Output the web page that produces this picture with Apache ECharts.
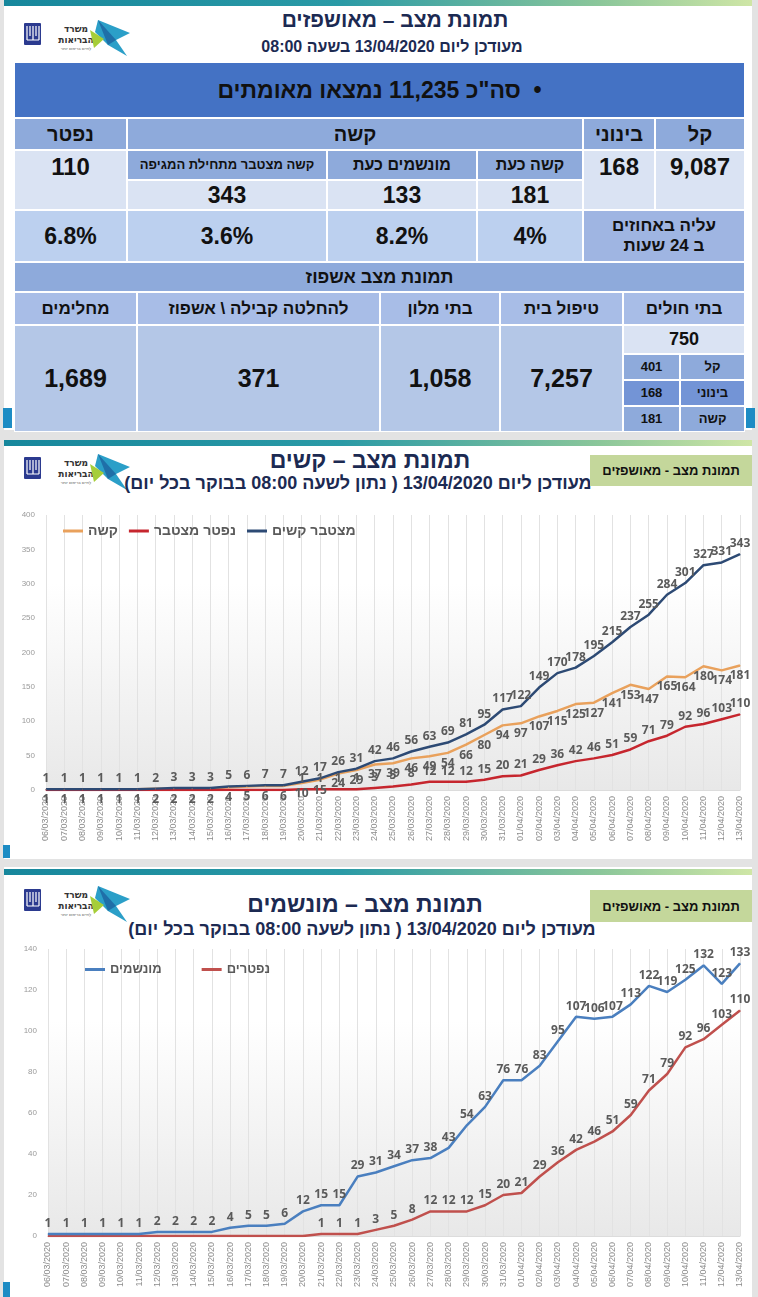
<!DOCTYPE html>
<html><head><meta charset="utf-8">
<script src="https://cdn.jsdelivr.net/npm/echarts@6/dist/echarts.min.js"></script>
<style>
html,body{margin:0;padding:0;}
body{width:758px;height:1297px;background:#e3e3e3;position:relative;overflow:hidden;font-family:"Liberation Sans Narrow","Liberation Sans","DejaVu Sans",sans-serif;}
.panel{position:absolute;left:4px;width:748px;background:#fff;}
.bar{position:absolute;height:6px;background:linear-gradient(90deg,#17879c 0%,#2a9aa6 45%,#8cc79a 80%,#cfe6a6 100%);}
.t{position:absolute;direction:rtl;text-align:center;font-weight:bold;color:#1c2a52;white-space:nowrap;}
.cell{position:absolute;box-sizing:border-box;border:1px solid #fff;display:flex;align-items:center;justify-content:center;direction:rtl;font-weight:bold;color:#111;text-align:center;line-height:1.15;}
.green{position:absolute;background:#c4d79b;font-weight:bold;font-size:13px;display:flex;align-items:center;justify-content:center;direction:rtl;color:#111;}
.sq{position:absolute;background:#1d8cc4;}
.logo{position:absolute;width:110px;height:40px;}
.chart{position:absolute;left:0;width:758px;}
</style></head>
<body>
<div class="panel" style="top:0;height:430px"></div>
<div class="panel" style="top:440px;height:419px"></div>
<div class="panel" style="top:867px;height:430px"></div>
<div class="bar" style="left:4px;width:748px;top:0"></div>
<div class="bar" style="left:4px;width:748px;top:440px"></div>
<div class="bar" style="left:4px;width:748px;top:869px"></div>
<div class="sq" style="left:3px;top:408px;width:9px;height:20px"></div>
<div class="sq" style="left:746px;top:408px;width:9px;height:20px"></div>
<div class="sq" style="left:3px;top:845px;width:7px;height:13px"></div>
<div class="sq" style="left:3px;top:1282px;width:7px;height:15px"></div>
<div id="layer"></div>
<div id="c1" class="chart" style="top:500px;height:360px"></div>
<div id="c2" class="chart" style="top:940px;height:357px"></div>
<script>
// ---------- table values ----------
const totalConfirmed = '11,235';
const severityHeaders = ['קל', 'בינוני', 'קשה', 'נפטר'];
const severityValues = ['9,087', '168', '110'];
const severeSubHeaders = ['קשה כעת', 'מונשמים כעת', 'קשה מצטבר מתחילת המגיפה'];
const severeSubValues = ['181', '133', '343'];
const dailyRise = ['4%', '8.2%', '3.6%', '6.8%'];
const hospHeaders = ['בתי חולים', 'טיפול בית', 'בתי מלון', 'להחלטה קבילה \\ אשפוז', 'מחלימים'];
const hospValues = ['750', '7,257', '1,058', '371', '1,689'];
const hospitalSplitLabels = ['קל', 'בינוני', 'קשה'];
const hospitalSplitValues = ['401', '168', '181'];

// ---------- chart values ----------
const dates = ['06/03/2020','07/03/2020','08/03/2020','09/03/2020','10/03/2020','11/03/2020','12/03/2020','13/03/2020','14/03/2020','15/03/2020','16/03/2020','17/03/2020','18/03/2020','19/03/2020','20/03/2020','21/03/2020','22/03/2020','23/03/2020','24/03/2020','25/03/2020','26/03/2020','27/03/2020','28/03/2020','29/03/2020','30/03/2020','31/03/2020','01/04/2020','02/04/2020','03/04/2020','04/04/2020','05/04/2020','06/04/2020','07/04/2020','08/04/2020','09/04/2020','10/04/2020','11/04/2020','12/04/2020','13/04/2020'];
const cumulativeSevere = [1,1,1,1,1,1,2,3,3,3,5,6,7,7,12,17,26,31,42,46,56,63,69,81,95,117,122,149,170,178,195,215,237,255,284,301,327,331,343];
const severeNow = [1,1,1,1,1,1,2,2,2,2,4,5,6,6,10,15,24,29,37,39,46,49,54,66,80,94,97,107,115,125,127,141,153,147,165,164,180,174,181];
const cumulativeDeaths1 = [0,0,0,0,0,0,0,0,0,0,0,0,0,0,1,1,1,1,3,5,8,12,12,12,15,20,21,29,36,42,46,51,59,71,79,92,96,103,110];
const ventilated = [1,1,1,1,1,1,2,2,2,2,4,5,5,6,12,15,15,29,31,34,37,38,43,54,63,76,76,83,95,107,106,107,113,122,119,125,132,123,133];
const deaths2 = [0,0,0,0,0,0,0,0,0,0,0,0,0,0,0,1,1,1,3,5,8,12,12,12,15,20,21,29,36,42,46,51,59,71,79,92,96,103,110];
const yTicks1 = {min: 0, max: 400, interval: 50};
const yTicks2 = {min: 0, max: 140, interval: 20};

// ---------- build table / titles ----------
const layer = document.getElementById('layer');
function cell(x1, y1, x2, y2, bg, html, fs, extra) {
  const d = document.createElement('div');
  d.className = 'cell';
  d.style.cssText = `left:${x1}px;top:${y1}px;width:${x2-x1}px;height:${y2-y1}px;background:${bg};font-size:${fs}px;` + (extra || '');
  d.innerHTML = html;
  layer.appendChild(d);
}
function title(cx, cy, text, fs) {
  const d = document.createElement('div');
  d.className = 't';
  d.style.cssText = `left:${cx-300}px;width:600px;top:${cy - fs*0.65}px;font-size:${fs}px;line-height:${fs*1.3}px;`;
  d.textContent = text;
  layer.appendChild(d);
}
function green(x1, y1, x2, y2, text) {
  const d = document.createElement('div');
  d.className = 'green';
  d.style.cssText = `left:${x1}px;top:${y1}px;width:${x2-x1}px;height:${y2-y1}px;`;
  d.textContent = text;
  layer.appendChild(d);
}
const logoSvg = `<svg viewBox="0 0 110 40" width="110" height="40">
<rect x="0" y="5" width="17" height="22" rx="1" fill="#2b3a8f"/>
<path d="M3 8v14M6 8v10M9 8v14M12 8v10M15 8v14M3 22h12" stroke="#fff" stroke-width="1.2" fill="none"/>
<text x="52" y="14" font-size="10" font-weight="bold" fill="#333" text-anchor="middle" font-family="DejaVu Sans Condensed, DejaVu Sans">משרד</text>
<text x="52" y="25" font-size="10" font-weight="bold" fill="#333" text-anchor="middle" font-family="DejaVu Sans Condensed, DejaVu Sans">הבריאות</text>
<text x="52" y="32" font-size="4" fill="#555" text-anchor="middle" font-family="Liberation Sans">לחיים בריאים יותר</text>
<polygon points="74,2 106,15 92,22 103,38 84,27 71,14" fill="#2b9fc8"/>
<polygon points="74,2 92,22 84,27" fill="#1f6fa8"/>
<polygon points="66,12 80,21 70,30" fill="#a6ce39"/>
</svg>`;
[[24,18],[24,452],[24,884]].forEach(([x,y]) => {
  const d = document.createElement('div');
  d.className = 'logo';
  d.style.left = x + 'px'; d.style.top = y + 'px';
  d.innerHTML = logoSvg;
  layer.appendChild(d);
});

title(395, 20, 'תמונת מצב – מאושפזים', 21);
title(392, 47, 'מעודכן ליום 13/04/2020 בשעה 08:00', 16);
title(370, 461, 'תמונת מצב – קשים', 23);
title(358, 484, 'מעודכן ליום 13/04/2020 ( נתון לשעה 08:00 בבוקר בכל יום)', 18);
title(365, 905, 'תמונת מצב – מונשמים', 23);
title(362, 930, 'מעודכן ליום 13/04/2020 ( נתון לשעה 08:00 בבוקר בכל יום)', 18);
green(590, 455, 752, 486, 'תמונת מצב - מאושפזים');
green(590, 890, 752, 922, 'תמונת מצב - מאושפזים');

const H = '#8eaadb', L = '#dae3f3', M = '#bcd0ef';
cell(14, 62, 745, 118, '#4472c4', '•&nbsp; סה"כ ' + totalConfirmed + ' נמצאו מאומתים', 23);
const colB = [[655,745],[583,655],[127,583],[14,127]];
severityHeaders.forEach((h, i) => cell(colB[i][0], 118, colB[i][1], 150, H, h, 20));
const colV = [[655,745],[583,655],[14,127]];
severityValues.forEach((v, i) => cell(colV[i][0], 150, colV[i][1], 210, L, v, 24, 'align-items:flex-start;padding-top:2px;'));
const colS = [[477,583],[327,477],[127,327]];
severeSubHeaders.forEach((h, i) => cell(colS[i][0], 150, colS[i][1], 180, H, h, i === 2 ? 13 : 16));
severeSubValues.forEach((v, i) => cell(colS[i][0], 180, colS[i][1], 210, L, v, 23));
cell(583, 210, 745, 262, '#9fb5e2', 'עליה באחוזים<br>ב 24 שעות', 17);
const colE = [[477,583],[327,477],[127,327],[14,127]];
dailyRise.forEach((v, i) => cell(colE[i][0], 210, colE[i][1], 262, M, v, 23));
cell(14, 262, 745, 292, H, 'תמונת מצב אשפוז', 18);
const colG = [[623,745],[500,623],[380,500],[137,380],[14,137]];
hospHeaders.forEach((h, i) => cell(colG[i][0], 292, colG[i][1], 325, '#a8bde7', h, 17));
cell(623, 325, 745, 354, L, hospValues[0], 18);
hospValues.slice(1).forEach((v, i) => cell(colG[i+1][0], 325, colG[i+1][1], 432, '#b4c7e7', v, 25));
const splitBg = [H, '#7394d6', H];
hospitalSplitLabels.forEach((l, i) => {
  const y1 = 354 + i * 26;
  cell(680, y1, 745, y1 + 26, splitBg[i], l, 13);
  cell(623, y1, 680, y1 + 26, splitBg[i], hospitalSplitValues[i], 13);
});

// ---------- charts ----------
const labelStyle = {show: true, fontSize: 12, fontWeight: 'bold', color: '#5a5a5a', fontFamily: 'Open Sans, Liberation Sans', distance: 4};
function baseOption(grid, yT, legendCfg, legendFs) {
  return {
    animation: false,
    legend: Object.assign({icon: 'rect', itemWidth: 20, itemHeight: 3,
      textStyle: {fontSize: legendFs, fontWeight: 'bold', color: '#5a5a5a', fontFamily: 'Liberation Sans'}}, legendCfg),
    grid: Object.assign({show: true, borderWidth: 0, outerBoundsMode: 'none', containLabel: false,
      backgroundColor: {type: 'linear', x: 0, y: 0, x2: 0, y2: 1,
        colorStops: [{offset: 0, color: '#ffffff'}, {offset: 0.25, color: '#ffffff'}, {offset: 1, color: '#e8e8e8'}]}}, grid),
    xAxis: {type: 'category', data: dates, boundaryGap: false,
      axisLine: {show: true, lineStyle: {color: '#dcdcdc'}}, axisTick: {show: false},
      axisLabel: {rotate: 90, interval: 0, fontSize: 9, color: '#8c8c8c', margin: 6, fontFamily: 'Liberation Sans'},
      splitLine: {show: true, interval: 0, lineStyle: {color: '#e2e2e2', width: 1}}},
    yAxis: {type: 'value', min: yT.min, max: yT.max, interval: yT.interval,
      axisLine: {show: false}, axisTick: {show: false}, splitLine: {show: false},
      axisLabel: {fontSize: 8, color: '#9a9a9a', margin: 11, fontFamily: 'Liberation Sans'}},
    series: []
  };
}
function lineSeries(name, data, color, pos) {
  return {name, type: 'line', data, symbol: 'circle', symbolSize: 1, showSymbol: true,
    lineStyle: {color, width: 2.5}, itemStyle: {color},
    label: Object.assign({}, labelStyle, {position: pos, formatter: p => p.value === 0 ? '' : String(p.value)})};
}
const c1 = echarts.init(document.getElementById('c1'), null, {renderer: 'canvas'});
const o1 = baseOption({left: 46, right: 18, top: 15, bottom: 70}, yTicks1,
  {left: 58, top: 19, itemGap: 11, data: ['קשה', 'נפטר מצטבר', 'מצטבר קשים']}, 14);
o1.series = [
  lineSeries('קשה', severeNow, '#e9a15c', 'bottom'),
  lineSeries('נפטר מצטבר', cumulativeDeaths1, '#c6262e', 'top'),
  lineSeries('מצטבר קשים', cumulativeSevere, '#2d4a74', 'top')
];
c1.setOption(o1);

const c2 = echarts.init(document.getElementById('c2'), null, {renderer: 'canvas'});
const o2 = baseOption({left: 48, right: 18, top: 9, bottom: 61}, yTicks2,
  {left: 80, top: 18, itemGap: 40, data: ['מונשמים', 'נפטרים']}, 13);
o2.series = [
  lineSeries('נפטרים', deaths2, '#c0504d', 'top'),
  lineSeries('מונשמים', ventilated, '#4a7fbf', 'top')
];
c2.setOption(o2);
</script>
</body></html>
